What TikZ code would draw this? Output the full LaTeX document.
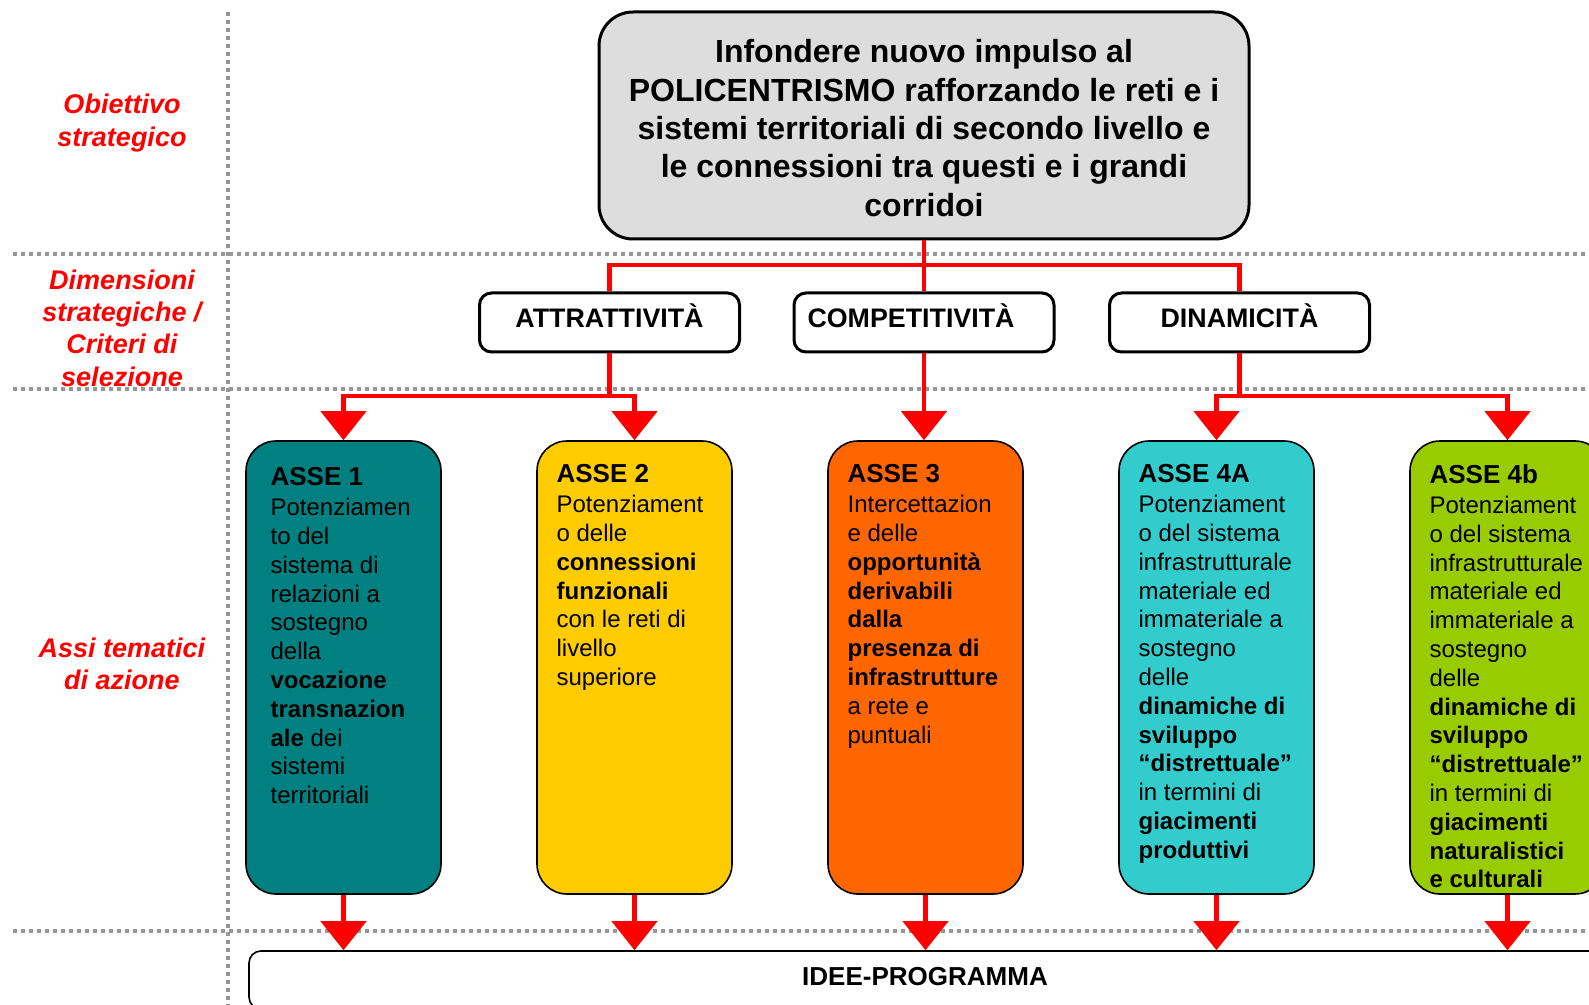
\documentclass[tikz,border=0pt]{standalone}
\usepackage{fontspec}
\setmainfont{Liberation Sans}
\usepackage{tikz}
\usetikzlibrary{arrows.meta}
\definecolor{asseteal}{RGB}{0,128,128}
\definecolor{asseyellow}{RGB}{255,204,0}
\definecolor{asseorange}{RGB}{255,102,0}
\definecolor{assecyan}{RGB}{51,204,204}
\definecolor{assegreen}{RGB}{153,204,0}
\definecolor{goalgray}{RGB}{221,221,221}
\definecolor{dotgray}{RGB}{150,150,150}

\begin{document}
\begin{tikzpicture}[x=0.5pt, y=-0.5pt,
    rowlabel/.style={text=red, font=\fontsize{13.5}{16.2}\selectfont\bfseries\itshape, align=center},
    dotline/.style={draw=dotgray, line width=2pt, dash pattern=on 2pt off 2pt},
    dimbox/.style={draw, line width=1.5pt, rounded corners=6pt, minimum width=130pt, minimum height=29.5pt,
      font=\fontsize{13.4}{15}\selectfont\bfseries, text height=0.75em, text depth=0.25em},
    assebox/.style={draw, line width=0.8pt, rounded corners=15pt, minimum width=97.5pt, minimum height=226.5pt},
    assetext/.style={anchor=north west, inner sep=0pt, align=left, font=\fontsize{12}{14.4}\selectfont},
    link/.style={draw=red, line width=2.2pt},
    linkarrow/.style={link, -{Triangle[width=22.5pt, length=14.5pt]}}
  ]
      \useasboundingbox (0,0) rectangle (1589,1005);
      \clip (0,0) rectangle (1589,1005);

      \draw[dotline] (228,12) -- (228,1005);
      \foreach \y in {254,389,931}
        \draw[dotline] (13,\y) -- (1589,\y);

      \node[rowlabel] (lobj) at (122,123) {Obiettivo\\strategico};
      \node[rowlabel] (ldim) at (122,328) {Dimensioni\\strategiche /\\Criteri di\\selezione};
      \node[rowlabel] (lassi) at (122,664) {Assi tematici\\di azione};

      \node[draw, line width=1.5pt, rounded corners=17pt, fill=goalgray, minimum width=325pt, minimum height=113.5pt] (goal) at (924,125.5) {};
      \node[align=center, font=\fontsize{16}{19.2}\selectfont\bfseries] (goaltext) at ([yshift=-1.3pt]goal.center)
        {Infondere nuovo impulso al\\POLICENTRISMO rafforzando le reti e i\\sistemi territoriali di secondo livello e\\le connessioni tra questi e i grandi\\corridoi};

      \node[dimbox] (attr) at (609.5,322.5) {ATTRATTIVITÀ};
      \node[dimbox] (comp) at (924,322.5) {COMPETITIVITÀ\kern13pt};
      \node[dimbox] (dina) at (1239.5,322.5) {DINAMICITÀ};

      \coordinate (bar1) at (924,265);
      \draw[link] (goal.south) -- (comp.north);
      \draw[link] (attr.north) |- (bar1) -| (dina.north);

      \node[assebox, fill=asseteal] (asse1) at (343.5,667.5) {};
      \node[assebox, fill=asseyellow] (asse2) at (634.5,667.5) {};
      \node[assebox, fill=asseorange] (asse3) at (925.5,667.5) {};
      \node[assebox, fill=assecyan] (asse4a) at (1216.5,667.5) {};
      \node[assebox, fill=assegreen] (asse4b) at (1507.5,667.5) {};

      \node[assetext] (asse1t) at ([shift={(25,27)}]asse1.north west)
        {{\fontsize{13}{14.4}\selectfont\bfseries ASSE 1}\\[0.6pt]
         Potenziamen\\to del\\sistema di\\relazioni a\\sostegno\\della\\
         \textbf{vocazione}\\\textbf{transnazion}\\\textbf{ale} dei\\sistemi\\territoriali};
      \node[assetext] (asse2t) at ([shift={(20,24)}]asse2.north west)
        {{\fontsize{13}{14.4}\selectfont\bfseries ASSE 2}\\[0.6pt]
         Potenziament\\o delle\\\textbf{connessioni}\\\textbf{funzionali}\\con le reti di\\livello\\superiore};
      \node[assetext] (asse3t) at ([shift={(20,24)}]asse3.north west)
        {{\fontsize{13}{14.4}\selectfont\bfseries ASSE 3}\\[0.6pt]
         Intercettazion\\e delle\\\textbf{opportunità}\\\textbf{derivabili}\\\textbf{dalla}\\
         \textbf{presenza di}\\\textbf{infrastrutture}\\a rete e\\puntuali};
      \node[assetext] (asse4at) at ([shift={(20,24)}]asse4a.north west)
        {{\fontsize{13}{14.4}\selectfont\bfseries ASSE 4A}\\[0.6pt]
         Potenziament\\o del sistema\\infrastrutturale\\materiale ed\\immateriale a\\sostegno\\delle\\
         \textbf{dinamiche di}\\\textbf{sviluppo}\\\textbf{“distrettuale”}\\in termini di\\
         \textbf{giacimenti}\\\textbf{produttivi}};
      \node[assetext] (asse4bt) at ([shift={(20,24)}]asse4b.north west)
        {{\fontsize{13}{14.4}\selectfont\bfseries ASSE 4b}\\[0.6pt]
         Potenziament\\o del sistema\\infrastrutturale\\materiale ed\\immateriale a\\sostegno\\delle\\
         \textbf{dinamiche di}\\\textbf{sviluppo}\\\textbf{“distrettuale”}\\in termini di\\
         \textbf{giacimenti}\\\textbf{naturalistici}\\\textbf{e culturali}};

      \coordinate (bar2) at (0,396);
      \draw[linkarrow] (attr.south) |- (asse1.north |- bar2) -- (asse1.north);
      \draw[linkarrow] (attr.south) |- (asse2.north |- bar2) -- (asse2.north);
      \draw[linkarrow] (comp.south) -- (comp.south |- asse3.north);
      \draw[linkarrow] (dina.south) |- (asse4a.north |- bar2) -- (asse4a.north);
      \draw[linkarrow] (dina.south) |- (asse4b.north |- bar2) -- (asse4b.north);

      \node[draw, fill=white, line width=0.8pt, rounded corners=6pt, minimum width=676pt, minimum height=29pt,
        font=\fontsize{13}{15}\selectfont\bfseries, text height=0.716em, text depth=0.2em] (idee) at (925,980) {IDEE-PROGRAMMA};

      \foreach \n in {asse1,asse2,asse3,asse4a,asse4b}
        \draw[linkarrow] (\n.south) -- (\n.south |- idee.north);
\end{tikzpicture}
\end{document}
